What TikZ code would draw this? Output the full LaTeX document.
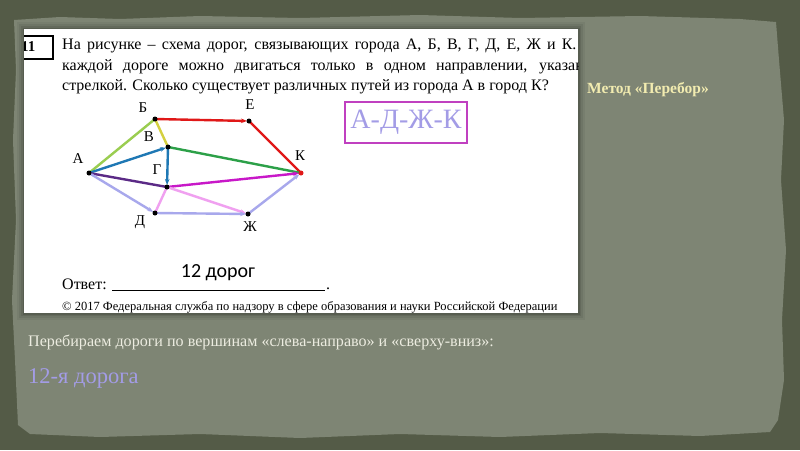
\documentclass[tikz,border=0pt]{standalone}
\usepackage{fontspec}
\setmainfont{Liberation Serif}
\newfontfamily\calib{Carlito}
\usetikzlibrary{arrows.meta}
\definecolor{outerbg}{HTML}{545B47}
\definecolor{paper}{HTML}{7E8574}
\definecolor{cAB}{HTML}{9ACD50}
\definecolor{cBV}{HTML}{D4D040}
\definecolor{cred}{HTML}{E01818}
\definecolor{cblue}{HTML}{1F78B4}
\definecolor{cgreen}{HTML}{2CA048}
\definecolor{cpurp}{HTML}{5B2A86}
\definecolor{cmag}{HTML}{C818C8}
\definecolor{cpink}{HTML}{F0A0F0}
\definecolor{clav}{HTML}{A8A8EC}
\definecolor{lavtext}{HTML}{A39CE6}
\definecolor{boxmag}{HTML}{C040C0}
\definecolor{paleyel}{HTML}{F2ECB0}
\definecolor{offwhite}{HTML}{ECECE0}
\tikzset{
  road/.style={line width=2.4pt},
  arr/.style={road,-{Stealth[length=6pt,width=4.5pt]},shorten >=2pt},
  city/.style={circle,fill=black,inner sep=0pt,minimum size=5pt},
  clabel/.style={font=\fontsize{15}{15}\selectfont,inner sep=0pt},
}
\begin{document}
\begin{tikzpicture}[x=1pt,y=-1pt]
\useasboundingbox (0,0) rectangle (800,450);
\fill[outerbg] (0,0) rectangle (800,450);
% torn paper
\fill[paper] (14,20) -- (60,17) -- (120,19) -- (200,16) -- (300,18) -- (420,15) -- (520,18) -- (640,16) -- (740,19) -- (776,22)
  -- (779,60) -- (784,120) -- (781,180) -- (786,250) -- (782,320) -- (784,380) -- (778,420) -- (770,432)
  -- (700,436) -- (600,433) -- (500,437) -- (400,434) -- (300,438) -- (200,434) -- (100,437) -- (30,434) -- (18,425)
  -- (15,360) -- (12,300) -- (16,220) -- (13,140) -- (16,70) -- cycle;
% shadow of white panel
\foreach \i/\o in {7/0.05,5/0.07,3/0.09,1.5/0.12}{
  \fill[black,opacity=\o] (24-\i,29-\i) rectangle (578+\i,313+\i);
}
\fill[white] (24,29) rectangle (578,313);
\begin{scope}
\clip (24,29) rectangle (578,313);
\draw[line width=1.3pt] (10,36) -- (53,36) -- (53,59) -- (10,59);
\node[anchor=west,inner sep=0pt,font=\bfseries\fontsize{15}{15}\selectfont] (num) at (21,47) {11};
\node[anchor=west,inner sep=0pt,font=\fontsize{16}{16}\selectfont] (q1) at (62,46) {\makebox[540pt][s]{На рисунке – схема дорог, связывающих города А, Б, В, Г, Д, Е, Ж и К. По}};
\node[anchor=west,inner sep=0pt,font=\fontsize{16}{16}\selectfont] (q2) at (62,67) {\makebox[548pt][s]{каждой дороге можно двигаться только в одном направлении, указанном}};
\node[anchor=west,inner sep=0pt,font=\fontsize{16}{16}\selectfont] (q3) at (62,87) {стрелкой. Сколько существует различных путей из города А в город К?};
\end{scope}
% graph
\coordinate (A) at (89,173);
\coordinate (B) at (155,119);
\coordinate (E) at (249,121);
\coordinate (V) at (168,147);
\coordinate (K) at (301,173);
\coordinate (G) at (167,187);
\coordinate (D) at (155,213);
\coordinate (Zh) at (248,214);
\draw[road,cAB] (A) -- (B);
\draw[arr,cred] (B) -- (E);
\draw[road,cred] (E) -- (K);
\draw[road,cgreen] (V) -- (K);
\draw[arr,cblue] (A) -- (V);
\draw[road,cBV] (B) -- (V);
\draw[arr,cblue] (V) -- (G);
\draw[road,cpurp] (A) -- (G);
\draw[arr,cmag] (G) -- (K);
\draw[arr,cpink] (G) -- (Zh);
\draw[road,cpink] (G) -- (D);
\draw[arr,clav] (A) -- (D);
\draw[arr,clav] (D) -- (Zh);
\draw[arr,clav] (Zh) -- (K);
\node[city] (nA) at (A) {};
\node[city] (nB) at (B) {};
\node[city] (nE) at (E) {};
\node[city] (nV) at (V) {};
\node[city,fill=cred] (nK) at (K) {};
\node[city] (nG) at (G) {};
\node[city] (nD) at (D) {};
\node[city] (nZh) at (Zh) {};
\node[clabel] (lA) at (78,159) {А};
\node[clabel] (lB) at (143,108) {Б};
\node[clabel] (lE) at (250,105) {Е};
\node[clabel] (lV) at (149,137) {В};
\node[clabel] (lK) at (300,156) {К};
\node[clabel] (lG) at (157,170) {Г};
\node[clabel] (lD) at (140,222) {Д};
\node[clabel] (lZh) at (250,227) {Ж};
% path box
\node[draw=boxmag,line width=1.2pt,minimum width=122pt,minimum height=41pt,inner sep=0pt,text=lavtext,font=\fontsize{28}{28}\selectfont] (path) at (406,122.5) {А-Д-Ж-К};
% answer
\node[anchor=base west,inner sep=0pt,font=\fontsize{16}{16}\selectfont] (otv) at (62,289) {Ответ:};
\coordinate (ul1) at (112,290);
\coordinate (ul2) at (325,290);
\draw[line width=1pt] (ul1) -- (ul2);
\node[anchor=base west,inner sep=0pt,font=\fontsize{16}{16}\selectfont] (dot) at (326,289) {.};
\node[anchor=base,inner sep=0pt,font=\calib\fontsize{20}{20}\selectfont] (ans) at (218,277) {12 дорог};
\node[anchor=base west,inner sep=0pt,font=\fontsize{12.5}{12.5}\selectfont] (copy) at (62,310) {© 2017 Федеральная служба по надзору в сфере образования и науки Российской Федерации};
% right side and bottom texts
\node[anchor=west,inner sep=0pt,text=paleyel,font=\bfseries\fontsize{15.5}{15.5}\selectfont] (title) at (587,90) {Метод «Перебор»};
\node[anchor=west,inner sep=0pt,text=offwhite,font=\fontsize{16.1}{16.1}\selectfont] (sub) at (28,342) {Перебираем дороги по вершинам «слева-направо» и «сверху-вниз»:};
\node[anchor=west,inner sep=0pt,text=lavtext,font=\fontsize{22.5}{22.5}\selectfont] (road) at (28,378) {12-я дорога};
\end{tikzpicture}
\end{document}
